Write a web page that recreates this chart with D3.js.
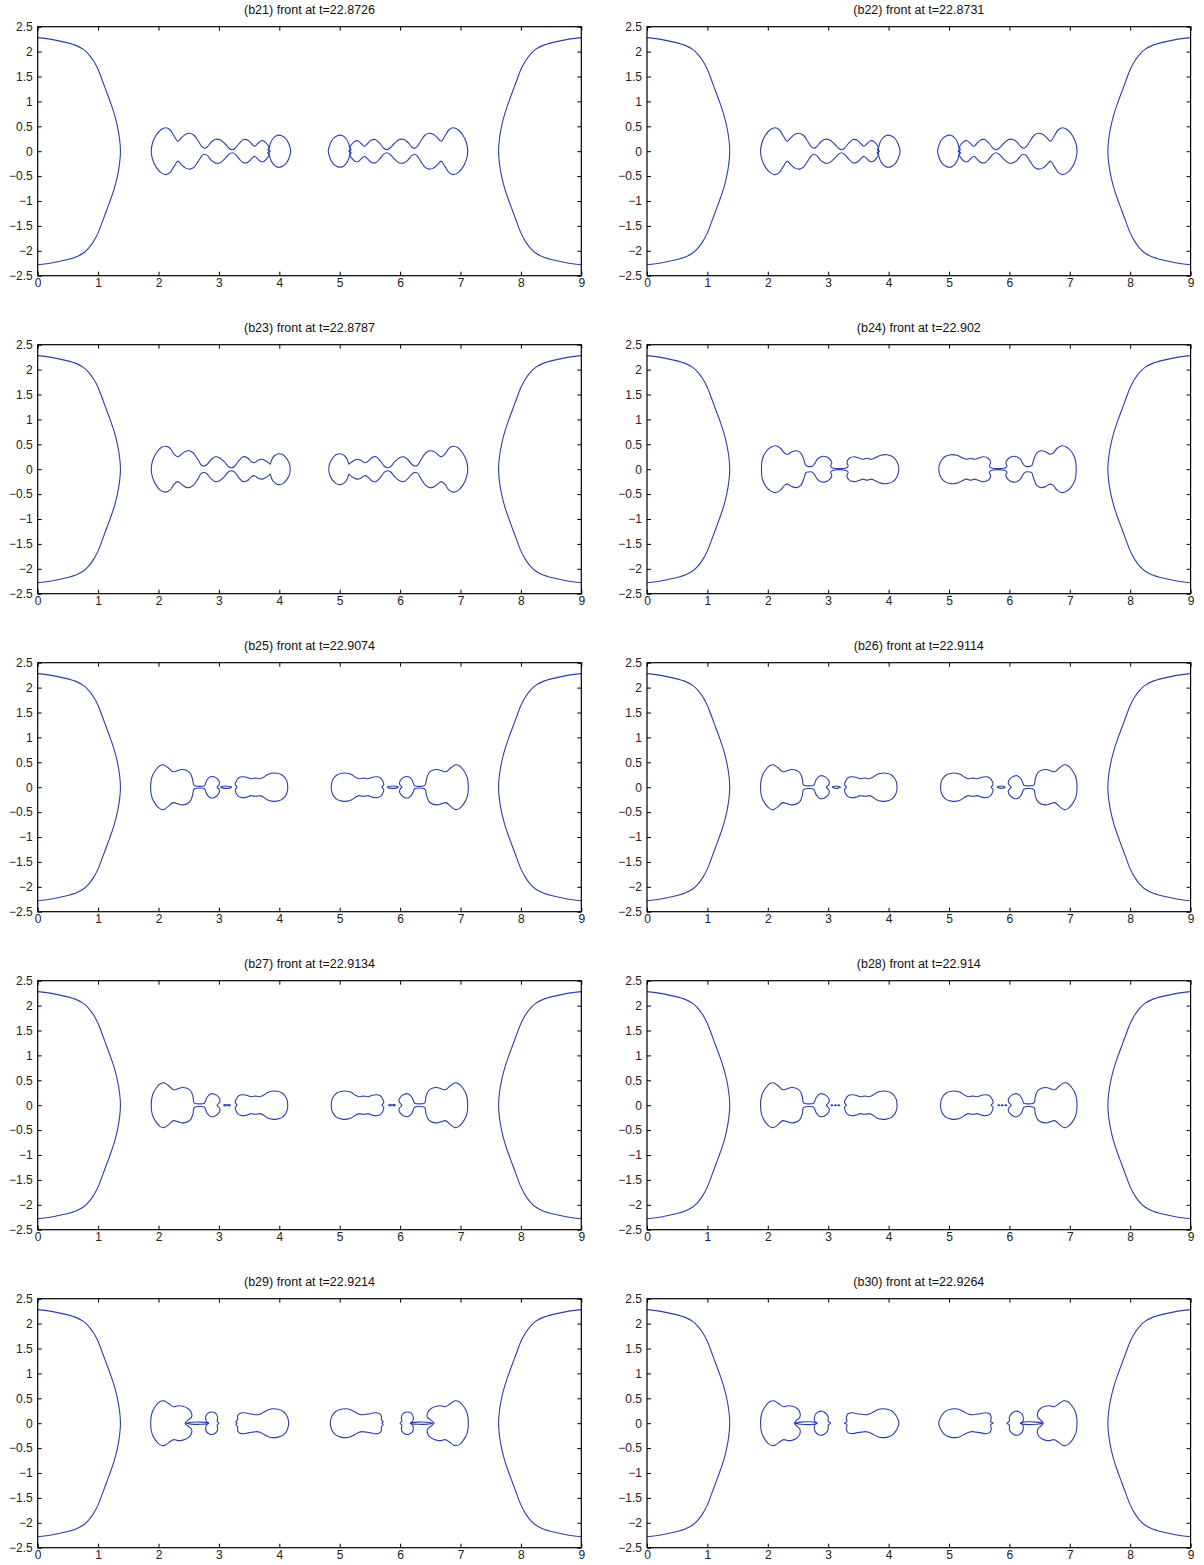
<!DOCTYPE html>
<html><head><meta charset="utf-8">
<script src="https://cdn.jsdelivr.net/npm/d3@7"></script>
<style>
body{margin:0;background:#fff}
svg text{font-family:"Liberation Sans",Arial,Helvetica,sans-serif}
</style></head>
<body><svg id="c" width="1204" height="1565"></svg>
<script>
// ---------- data ----------
const titles = ["(b21) front at t=22.8726","(b22) front at t=22.8731","(b23) front at t=22.8787","(b24) front at t=22.902",
  "(b25) front at t=22.9074","(b26) front at t=22.9114","(b27) front at t=22.9134","(b28) front at t=22.914",
  "(b29) front at t=22.9214","(b30) front at t=22.9264"];
const xTicks = [0,1,2,3,4,5,6,7,8,9];
const xTickLabels = ["0","1","2","3","4","5","6","7","8","9"];
const yTicks = [2.5,2,1.5,1,0.5,0,-0.5,-1,-1.5,-2,-2.5];
const yTickLabels = ["2.5","2","1.5","1","0.5","0","\u22120.5","\u22121","\u22121.5","\u22122","\u22122.5"];

// outer front (upper half, left side), mirrored in y and about x=4.5
const outerFront = [[0,2.28],[0.25,2.24],[0.48,2.18],[0.64,2.12],[0.75,2.05],[0.84,1.95],[0.92,1.82],[1.0,1.64],[1.07,1.42],[1.14,1.19],[1.21,0.96],[1.27,0.74],[1.32,0.5],[1.355,0.25],[1.37,0]];

// inner fronts: upper halves of closed contours (left cluster), mirrored in y and about x=4.5
const chain21 = [[1.88,0],[1.9,0.16],[1.96,0.32],[2.04,0.43],[2.12,0.47],[2.19,0.43],[2.26,0.3],[2.32,0.2],[2.38,0.27],[2.45,0.34],[2.52,0.36],[2.59,0.32],[2.66,0.2],[2.72,0.09],[2.76,0.06],[2.81,0.09],[2.88,0.19],[2.95,0.24],[3.02,0.23],[3.1,0.15],[3.17,0.06],[3.22,0.03],[3.27,0.06],[3.34,0.16],[3.41,0.235],[3.48,0.22],[3.55,0.14],[3.59,0.1],[3.64,0.15],[3.7,0.21],[3.75,0.2],[3.8,0.14],[3.83,0.07],[3.81,0.03],[3.85,0]];
const bulb21 = [[3.83,0],[3.85,0.15],[3.9,0.26],[3.97,0.32],[4.04,0.31],[4.11,0.25],[4.16,0.14],[4.19,0]];
const chain23 = [[1.88,0],[1.9,0.16],[1.96,0.32],[2.04,0.43],[2.12,0.46],[2.19,0.42],[2.26,0.3],[2.32,0.25],[2.38,0.3],[2.45,0.36],[2.51,0.37],[2.58,0.32],[2.65,0.2],[2.71,0.08],[2.75,0.065],[2.8,0.09],[2.87,0.19],[2.94,0.25],[3.01,0.23],[3.09,0.15],[3.16,0.05],[3.21,0.03],[3.26,0.06],[3.33,0.17],[3.4,0.25],[3.47,0.23],[3.54,0.15],[3.59,0.13],[3.65,0.18],[3.71,0.2],[3.77,0.17],[3.83,0.12],[3.85,0.1],[3.87,0.18],[3.92,0.27],[3.99,0.31],[4.06,0.29],[4.13,0.2],[4.17,0.1],[4.18,0]];
const chain24 = [[1.895,0],[1.91,0.2],[1.97,0.35],[2.05,0.44],[2.13,0.47],[2.21,0.42],[2.28,0.32],[2.33,0.3],[2.4,0.35],[2.48,0.37],[2.55,0.32],[2.6,0.18],[2.63,0.07],[2.67,0.055],[2.73,0.055],[2.77,0.1],[2.82,0.2],[2.88,0.25],[2.95,0.255],[3.02,0.21],[3.06,0.13],[3.04,0.06],[3.07,0.025],[3.3,0.025],[3.33,0.06],[3.31,0.14],[3.35,0.22],[3.43,0.25],[3.52,0.22],[3.58,0.2],[3.64,0.22],[3.71,0.2],[3.78,0.23],[3.87,0.28],[3.97,0.29],[4.07,0.25],[4.14,0.15],[4.17,0]];
const big25 = [[1.87,0],[1.89,0.2],[1.95,0.34],[2.02,0.43],[2.08,0.45],[2.15,0.4],[2.24,0.31],[2.31,0.33],[2.38,0.355],[2.46,0.34],[2.52,0.29],[2.56,0.18],[2.58,0.06],[2.6,0.03],[2.76,0.03],[2.78,0.08],[2.81,0.16],[2.86,0.21],[2.92,0.21],[2.98,0.16],[3.01,0.09],[3.0,0.04],[2.97,0]];
const dash25 = [[3.03,0],[3.05,0.013],[3.19,0.013],[3.21,0]];
const third25 = [[3.3,0],[3.27,0.05],[3.29,0.13],[3.33,0.19],[3.39,0.21],[3.46,0.2],[3.53,0.17],[3.58,0.18],[3.63,0.18],[3.68,0.17],[3.74,0.2],[3.8,0.25],[3.88,0.28],[3.96,0.28],[4.04,0.25],[4.1,0.18],[4.13,0.1],[4.14,0]];
const big26 = [[1.88,0],[1.9,0.2],[1.96,0.34],[2.03,0.43],[2.09,0.45],[2.16,0.4],[2.25,0.31],[2.32,0.33],[2.39,0.355],[2.47,0.34],[2.53,0.29],[2.57,0.18],[2.585,0.06],[2.6,0.04],[2.76,0.04],[2.78,0.09],[2.81,0.17],[2.87,0.23],[2.93,0.22],[2.99,0.17],[3.02,0.09],[3.0,0.04],[2.97,0]];
const dash26 = [[3.07,0],[3.085,0.013],[3.185,0.013],[3.2,0]];
const dash27 = [[3.08,0],[3.1,0.016],[3.12,0.007],[3.15,0.007],[3.17,0.016],[3.19,0]];
const dot28a = [[3.045,0],[3.06,0.01],[3.075,0]];
const dot28b = [[3.105,0],[3.12,0.01],[3.135,0]];
const dot28c = [[3.16,0],[3.175,0.01],[3.19,0]];
const big29 = [[1.87,0],[1.89,0.2],[1.95,0.34],[2.02,0.43],[2.09,0.45],[2.16,0.4],[2.25,0.33],[2.32,0.35],[2.4,0.34],[2.48,0.3],[2.54,0.22],[2.55,0.13],[2.5,0.07],[2.46,0.03],[2.44,0]];
const needle29 = [[2.46,0],[2.55,0.018],[2.7,0.022],[2.8,0.014],[2.83,0]];
const heart29 = [[2.83,0],[2.8,0.03],[2.78,0.1],[2.8,0.18],[2.85,0.22],[2.91,0.22],[2.96,0.18],[2.98,0.1],[2.97,0.04],[3.0,0]];
const third29 = [[3.3,0],[3.28,0.03],[3.31,0.07],[3.31,0.15],[3.35,0.2],[3.42,0.21],[3.5,0.19],[3.56,0.18],[3.62,0.17],[3.68,0.18],[3.74,0.22],[3.82,0.27],[3.9,0.29],[3.98,0.28],[4.06,0.24],[4.12,0.16],[4.15,0.06],[4.155,0]];
const big30 = [[1.88,0],[1.9,0.2],[1.96,0.34],[2.03,0.43],[2.1,0.45],[2.17,0.4],[2.26,0.33],[2.33,0.35],[2.41,0.34],[2.48,0.3],[2.53,0.22],[2.53,0.12],[2.48,0.06],[2.45,0.02],[2.44,0]];
const needle30 = [[2.45,0],[2.55,0.022],[2.7,0.028],[2.79,0.016],[2.82,0]];
const heart30 = [[2.81,0],[2.78,0.03],[2.77,0.1],[2.79,0.18],[2.84,0.23],[2.9,0.24],[2.96,0.2],[3.0,0.12],[3.0,0.04],[3.04,0]];
const third30 = [[3.27,0],[3.31,0.03],[3.3,0.12],[3.33,0.19],[3.4,0.21],[3.48,0.19],[3.55,0.18],[3.61,0.17],[3.67,0.18],[3.74,0.22],[3.82,0.27],[3.9,0.29],[3.98,0.28],[4.06,0.24],[4.12,0.16],[4.16,0.06],[4.17,0]];

const panelShapes = [
  [chain21,bulb21],[chain21,bulb21],[chain23],[chain24],
  [big25,dash25,third25],[big26,dash26,third25],[big26,dash27,third25],[big26,dot28a,dot28b,dot28c,third25],
  [big29,needle29,heart29,third29],[big30,needle30,heart30,third30]
];

// ---------- drawing ----------
const svg = d3.select("#c");
const colLeft = [37.7, 647];
const pw = 543.6, ph = 249;
const rowTop = i => 26.7 + 318*i;
const lineColor = "#2b3fa8";

function closedFromUpper(up){
  const low = up.slice(1,-1).map(([x,y])=>[x,-y]).reverse();
  return up.concat(low);
}

titles.forEach((t,i)=>{
  const c = i%2, r = Math.floor(i/2);
  const L = colLeft[c], T = rowTop(r);
  const x = d3.scaleLinear().domain([0,9]).range([L, L+pw]);
  const y = d3.scaleLinear().domain([-2.5,2.5]).range([T+ph, T]);
  const g = svg.append("g");

  const clip = "clip"+i;
  g.append("clipPath").attr("id",clip).append("rect").attr("x",L).attr("y",T).attr("width",pw).attr("height",ph);
  const plot = g.append("g").attr("clip-path",`url(#${clip})`);

  const open = d3.line().x(d=>x(d[0])).y(d=>y(d[1])).curve(d3.curveCatmullRom.alpha(0.5));
  const closed = d3.line().x(d=>x(d[0])).y(d=>y(d[1])).curve(d3.curveCatmullRomClosed.alpha(0.5));

  const outerFull = outerFront.concat(outerFront.slice(0,-1).map(([a,b])=>[a,-b]).reverse());
  plot.append("path").attr("d",open(outerFull)).attr("fill","none").attr("stroke",lineColor).attr("stroke-width",1.1);
  plot.append("path").attr("d",open(outerFull.map(([a,b])=>[9-a,b]))).attr("fill","none").attr("stroke",lineColor).attr("stroke-width",1.1);

  panelShapes[i].forEach(s=>{
    const pts = closedFromUpper(s);
    plot.append("path").attr("d",closed(pts)).attr("fill","none").attr("stroke",lineColor).attr("stroke-width",1.1);
    plot.append("path").attr("d",closed(pts.map(([a,b])=>[9-a,b]))).attr("fill","none").attr("stroke",lineColor).attr("stroke-width",1.1);
  });

  const fmtX = d=>xTickLabels[xTicks.indexOf(d)];
  const fmtY = d=>yTickLabels[yTicks.indexOf(d)];
  const ax = g.append("g").attr("transform",`translate(0,${T+ph})`)
    .call(d3.axisBottom(x).tickValues(xTicks).tickFormat(fmtX).tickSize(-4).tickPadding(3));
  const ay = g.append("g").attr("transform",`translate(${L},0)`)
    .call(d3.axisLeft(y).tickValues(yTicks).tickFormat(fmtY).tickSize(-4).tickPadding(5));
  const at = g.append("g").attr("transform",`translate(0,${T})`)
    .call(d3.axisTop(x).tickValues(xTicks).tickFormat("").tickSize(-4));
  const ar = g.append("g").attr("transform",`translate(${L+pw},0)`)
    .call(d3.axisRight(y).tickValues(yTicks).tickFormat("").tickSize(-4));
  [ax,ay,at,ar].forEach(a=>{
    a.select(".domain").remove();
    a.selectAll("text").attr("font-size",12).attr("fill","#222");
    a.selectAll("line").attr("stroke","#000");
  });
  g.append("rect").attr("x",L).attr("y",T).attr("width",pw).attr("height",ph)
    .attr("fill","none").attr("stroke","#000").attr("stroke-width",1.2);

  g.append("text").attr("x",L+pw/2).attr("y",T-13).attr("text-anchor","middle")
    .attr("font-size",12.5).attr("fill","#111").text(t);
});
</script></body></html>
